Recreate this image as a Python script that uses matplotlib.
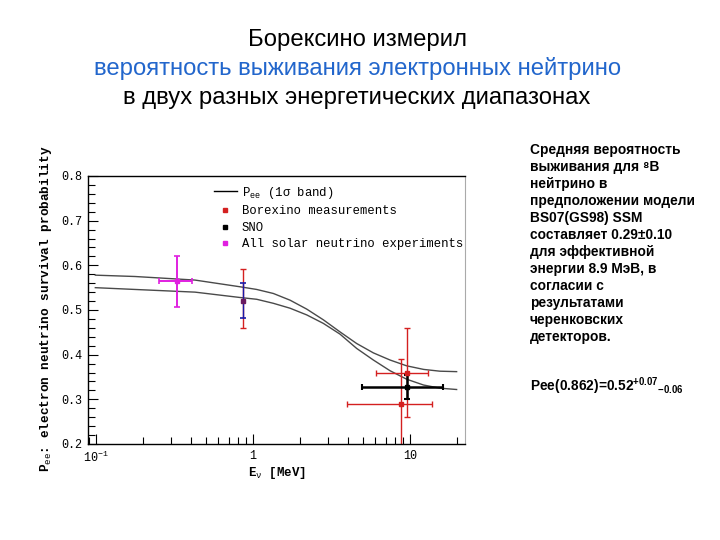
import numpy as np
import matplotlib
matplotlib.use("Agg")
import matplotlib.pyplot as plt
from matplotlib.lines import Line2D
from matplotlib.ticker import FixedLocator, FixedFormatter, MultipleLocator

plt.rcParams['mathtext.fontset'] = 'custom'
plt.rcParams['mathtext.rm'] = 'Liberation Mono'
plt.rcParams['mathtext.it'] = 'Liberation Mono'
plt.rcParams['mathtext.bf'] = 'Liberation Sans:bold'
plt.rcParams['mathtext.default'] = 'rm'

# ---- data ----
band_E = [0.099, 0.177, 0.427, 0.826, 1.055, 1.347, 1.721, 2.198, 2.805, 3.58,
          4.57, 5.84, 7.46, 9.52, 12.2, 15.5, 19.8]
band_upper = [0.578, 0.575, 0.567, 0.552, 0.546, 0.537, 0.522, 0.502, 0.478, 0.451,
              0.425, 0.404, 0.388, 0.375, 0.367, 0.363, 0.362]
band_lower = [0.550, 0.546, 0.540, 0.528, 0.524, 0.515, 0.504, 0.489, 0.470, 0.446,
              0.414, 0.388, 0.364, 0.345, 0.332, 0.325, 0.322]

# Borexino 7Be (stat in blue, total in red)
be7_E = [0.862]
be7_P = [0.521]
be7_tot_lo = [0.061]
be7_tot_hi = [0.070]
be7_stat = [0.039]

# Borexino 8B
b8_E = [9.53, 8.81]
b8_P = [0.360, 0.290]
b8_err_lo = [0.100, 0.100]
b8_err_hi = [0.100, 0.100]
b8_E_lo = [6.04, 3.95]
b8_E_hi = [13.1, 13.7]

# SNO
sno_E = [9.53]
sno_P = [0.328]
sno_err_lo = [0.028]
sno_err_hi = [0.026]
sno_E_lo = [4.97]
sno_E_hi = [16.3]

# All solar (pp)
all_E = [0.328]
all_P = [0.566]
all_err_lo = [0.059]
all_err_hi = [0.055]
all_E_lo = [0.252]
all_E_hi = [0.409]

xtick_vals = [0.1, 1, 10]
xtick_labels = ['10$^{-1}$', '1', '10']

title_lines = ["Борексино измерил",
               "вероятность выживания электронных нейтрино",
               "в двух разных энергетических диапазонах"]
title_colors = ['black', '#2266cc', 'black']

side_lines = ["Средняя вероятность",
              "выживания для ⁸B",
              "нейтрино в",
              "предположении модели",
              "BS07(GS98) SSM",
              "составляет 0.29±0.10",
              "для эффективной",
              "энергии 8.9 МэВ, в",
              "согласии с",
              "результатами",
              "черенковских",
              "детекторов."]

legend_labels = ['P$_{ee}$ (1σ band)', 'Borexino measurements', 'SNO',
                 'All solar neutrino experiments']

# ---- figure ----
W, H = 720, 540
fig = plt.figure(figsize=(7.2, 5.4), dpi=100)
ax = fig.add_axes([88 / W, 1 - 444 / H, (465 - 88) / W, (444 - 176) / H])

mono = 'Liberation Mono'
red = '#d42020'
blue = '#1a1aa8'
mag = '#e020e0'
gray = '#4a4a4a'

ax.plot(band_E, band_upper, color=gray, lw=1.0)
ax.plot(band_E, band_lower, color=gray, lw=1.0)

# All solar
ax.errorbar(all_E, all_P, yerr=[all_err_lo, all_err_hi],
            xerr=[np.subtract(all_E, all_E_lo), np.subtract(all_E_hi, all_E)],
            fmt='s', ms=3, color=mag, ecolor=mag, elinewidth=1.4, capsize=2.5, capthick=1.2)
# Borexino 7Be
ax.errorbar(be7_E, be7_P, yerr=[be7_tot_lo, be7_tot_hi], fmt='none',
            ecolor=red, elinewidth=1.0, capsize=2.5, capthick=1.0)
ax.errorbar(be7_E, be7_P, yerr=[be7_stat, be7_stat], fmt='s', ms=3,
            color='#6a1a60', ecolor=blue, elinewidth=1.0, capsize=2.5, capthick=1.2)
# Borexino 8B
ax.errorbar(b8_E, b8_P, yerr=[b8_err_lo, b8_err_hi],
            xerr=[np.subtract(b8_E, b8_E_lo), np.subtract(b8_E_hi, b8_E)],
            fmt='s', ms=3, color=red, ecolor=red, elinewidth=1.0, capsize=2.5, capthick=1.0)
# SNO
ax.errorbar(sno_E, sno_P, yerr=[sno_err_lo, sno_err_hi],
            xerr=[np.subtract(sno_E, sno_E_lo), np.subtract(sno_E_hi, sno_E)],
            fmt='s', ms=3, color='black', ecolor='black', elinewidth=1.8, capsize=2, capthick=1.5)

ax.set_xscale('log')
ax.set_xlim(10 ** -1.051, 10 ** 1.350)
ax.set_ylim(0.2, 0.8)
ax.xaxis.set_major_locator(FixedLocator(xtick_vals))
ax.xaxis.set_major_formatter(FixedFormatter(xtick_labels))
ax.yaxis.set_major_locator(MultipleLocator(0.1))
ax.yaxis.set_minor_locator(MultipleLocator(0.02))
ax.tick_params(axis='both', which='both', direction='in', top=False, right=False,
               colors='black', width=0.8)
ax.tick_params(axis='both', which='major', length=7, labelsize=8.5, pad=4)
ax.tick_params(axis='both', which='minor', length=5)
for lab in ax.get_xticklabels() + ax.get_yticklabels():
    lab.set_family(mono)
for s in ['left', 'bottom', 'top']:
    ax.spines[s].set_linewidth(1.0)
ax.spines['right'].set_color('#aaaaaa')

ax.set_xlabel('E$_{ν}$ [MeV]', family=mono, fontsize=9, fontweight='bold', labelpad=0)
ax.set_ylabel('P$_{ee}$: electron neutrino survival probability', family=mono,
              fontsize=9.2, fontweight='bold')
ax.yaxis.set_label_coords(-0.09, 0.505)

handles = [Line2D([], [], color='black', lw=1.0),
           Line2D([], [], ls='none', marker='s', ms=3, color=red),
           Line2D([], [], ls='none', marker='s', ms=3, color='black'),
           Line2D([], [], ls='none', marker='s', ms=3, color=mag)]
leg = ax.legend(handles, legend_labels, loc='upper left',
                bbox_to_anchor=((205 - 88) / 377, 1 - (176 - 176) / 268),
                frameon=False, prop={'family': mono, 'size': 8.8},
                handlelength=1.9, handletextpad=0.4, labelspacing=0.38, borderpad=0.2)

# titles
for i, (t, c) in enumerate(zip(title_lines, title_colors)):
    fig.text(0.496, 1 - (40 + 29 * i) / H, t, ha='center', va='center', color=c,
             fontsize=17.2, family=['Liberation Sans', 'DejaVu Sans'])

# side text
for i, t in enumerate(side_lines):
    fig.text(530 / W, 1 - (150 + 17 * i) / H, t, ha='left', va='center',
             fontsize=9.9, fontweight='bold', family=['Liberation Sans', 'DejaVu Sans'])
fig.text(530 / W, 1 - 386 / H,
         r'Pee(0.862)=0.52$^{\mathbf{+0.07}}$$_{\mathbf{-0.06}}$', ha='left', va='center',
         fontsize=9.9, fontweight='bold', family=['Liberation Sans', 'DejaVu Sans'])

fig.savefig('out.png', dpi=100)
